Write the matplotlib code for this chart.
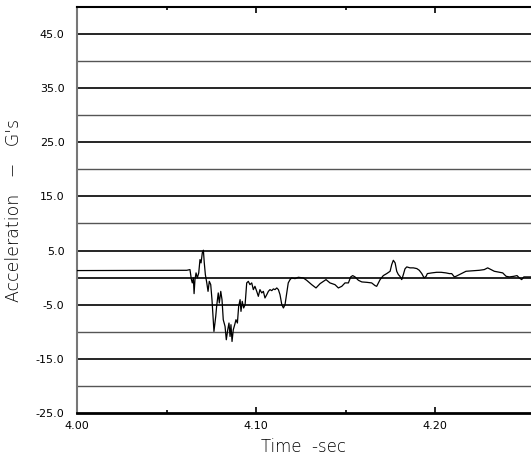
import matplotlib
matplotlib.use("Agg")
import matplotlib.pyplot as plt
from matplotlib.ticker import FixedLocator, FormatStrFormatter

# acceleration trace
time_s = [
    4.0000, 4.0613, 4.0631, 4.0639, 4.0644, 4.0650, 4.0654, 4.0659, 4.0665, 4.0672,
    4.0680, 4.0687, 4.0693, 4.0700, 4.0706, 4.0711, 4.0717, 4.0725, 4.0732, 4.0739,
    4.0747, 4.0754, 4.0765, 4.0775, 4.0780, 4.0789, 4.0795, 4.0803, 4.0810, 4.0817,
    4.0827, 4.0834, 4.0842, 4.0849, 4.0855, 4.0860, 4.0866, 4.0873, 4.0881, 4.0888,
    4.0896, 4.0903, 4.0911, 4.0916, 4.0923, 4.0931, 4.0939, 4.0948, 4.0957, 4.0966,
    4.0976, 4.0985, 4.0994, 4.1004, 4.1013, 4.1022, 4.1032, 4.1041, 4.1050, 4.1060,
    4.1069, 4.1078, 4.1088, 4.1097, 4.1106, 4.1116, 4.1125, 4.1134, 4.1144, 4.1153,
    4.1162, 4.1172, 4.1180, 4.1190, 4.1199, 4.1218, 4.1236, 4.1264, 4.1283, 4.1311,
    4.1335, 4.1358, 4.1391, 4.1413, 4.1441, 4.1460, 4.1479, 4.1497, 4.1516, 4.1529,
    4.1540, 4.1553, 4.1572, 4.1591, 4.1618, 4.1646, 4.1665, 4.1674, 4.1693, 4.1711,
    4.1730, 4.1749, 4.1758, 4.1767, 4.1777, 4.1786, 4.1795, 4.1804, 4.1814, 4.1823,
    4.1832, 4.1842, 4.1860, 4.1879, 4.1898, 4.1912, 4.1926, 4.1939, 4.1950, 4.1957,
    4.1982, 4.2009, 4.2034, 4.2061, 4.2080, 4.2093, 4.2108, 4.2117, 4.2136, 4.2155,
    4.2173, 4.2201, 4.2229, 4.2247, 4.2275, 4.2294, 4.2313, 4.2331, 4.2359, 4.2378,
    4.2397, 4.2415, 4.2440, 4.2458, 4.2471, 4.2484, 4.2496, 4.2518, 4.2536,
]
accel_g = [
    1.30, 1.35, 1.48, -0.37, -0.98, -0.06, -2.96, -0.37, 0.87, -0.06,
    0.87, 3.33, 2.72, 4.57, 5.06, 2.72, 0.56, -0.98, -2.54, -0.69,
    -1.30, -4.07, -9.94, -7.17, -5.31, -2.83, -4.69, -2.54, -4.07, -7.78,
    -9.02, -11.48, -9.63, -8.39, -10.87, -8.70, -11.80, -9.63, -8.70, -7.78,
    -8.39, -5.31, -4.07, -6.24, -4.39, -5.61, -5.00, -0.98, -0.69, -1.30,
    -0.98, -2.22, -1.61, -2.54, -3.46, -2.22, -2.83, -2.54, -3.76, -3.15,
    -2.54, -2.22, -2.41, -2.09, -2.22, -1.91, -2.22, -3.15, -5.00, -5.61,
    -5.00, -2.83, -0.98, -0.37, -0.06, -0.19, 0.06, -0.06, -0.50, -1.30,
    -1.91, -1.11, -0.37, -0.98, -1.30, -1.91, -1.61, -0.98, -0.98, 0.13,
    0.37, 0.13, -0.50, -0.80, -0.87, -0.98, -1.48, -1.61, -0.37, 0.37,
    0.74, 1.17, 2.41, 3.20, 2.72, 1.17, 0.56, 0.24, -0.37, 0.56,
    1.61, 1.98, 1.80, 1.80, 1.67, 1.35, 0.74, -0.06, 0.24, 0.74,
    0.87, 0.98, 0.98, 0.87, 0.74, 0.74, 0.13, 0.24, 0.56, 0.87,
    1.17, 1.24, 1.30, 1.35, 1.48, 1.80, 1.48, 1.17, 0.98, 0.87,
    0.24, 0.13, 0.24, 0.37, -0.06, -0.37, 0.13, 0.13, 0.13,
]

y_ticks = [-25, -15, -5, 5, 15, 25, 35, 45]
x_ticks = [4.00, 4.10, 4.20]
x_minor = [4.05, 4.15]
dark_lines = [-15, -5, 0, 5, 15, 25, 35, 45]
light_lines = [-20, -10, 10, 20, 30, 40]

fig = plt.figure(figsize=(5.31, 4.65), dpi=100)
ax = fig.add_axes([0.145, 0.112, 0.855, 0.873])

for v in dark_lines:
    ax.axhline(v, color="black", lw=1.2, zorder=1)
for v in light_lines:
    ax.axhline(v, color="#555555", lw=1.0, zorder=1)

ax.plot(time_s, accel_g, color="black", lw=0.9, zorder=3)

ax.set_xlim(4.0, 4.2536)
ax.set_ylim(-25, 50)

ax.yaxis.set_major_locator(FixedLocator(y_ticks))
ax.yaxis.set_major_formatter(FormatStrFormatter("%.1f"))
ax.xaxis.set_major_locator(FixedLocator(x_ticks))
ax.xaxis.set_minor_locator(FixedLocator(x_minor))
ax.xaxis.set_major_formatter(FormatStrFormatter("%.2f"))

ax.tick_params(axis="y", length=0, pad=9, labelsize=8)
ax.tick_params(axis="x", which="major", direction="in", length=4, width=1.2,
               pad=6, labelsize=8, top=True)
ax.tick_params(axis="x", which="minor", direction="in", length=2, width=1.2, top=True)

ax.spines["right"].set_visible(False)
ax.spines["left"].set_color("#777777")
ax.spines["left"].set_linewidth(1.5)
ax.spines["bottom"].set_linewidth(2.0)
ax.spines["top"].set_linewidth(1.5)

ax.set_xlabel("Time  -sec", fontsize=12, fontweight="light", labelpad=5)
ax.set_ylabel("Acceleration   \u2212   G's", fontsize=12.5, fontweight="light",
              labelpad=9)

fig.savefig("out.png", dpi=100)
